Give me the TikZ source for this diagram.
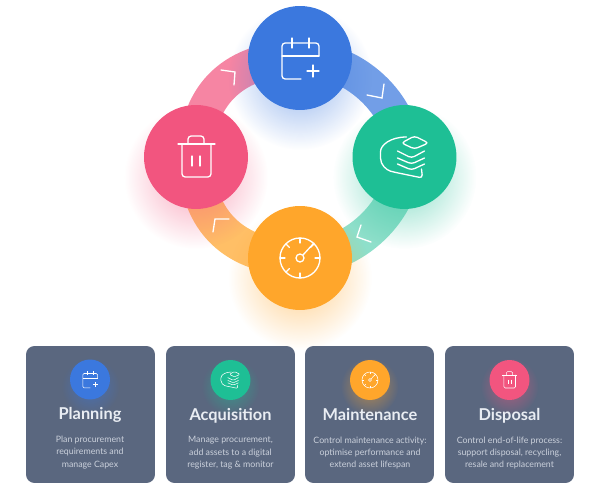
\documentclass[tikz,border=0pt]{standalone}
\usepackage{fontspec}
\setmainfont{Lato}
\usetikzlibrary{backgrounds,fadings,calc}

\definecolor{planblue}{HTML}{3B78DE}
\definecolor{acqgreen}{HTML}{1EBF95}
\definecolor{maintorange}{HTML}{FFA62B}
\definecolor{disppink}{HTML}{F2557F}
\definecolor{cardgrey}{HTML}{5A677F}
\definecolor{titlegrey}{HTML}{E9EDF3}
\definecolor{bodygrey}{HTML}{CBD1DC}

\tikzfading[name=glowfade,inner color=transparent!45,outer color=transparent!100]

\tikzset{
  iconline/.style={draw=white,line width=.75pt,rounded corners=1.8pt,line cap=round},
  pics/calicon/.style={code={
    \draw[iconline] (19,-2) -- (19,-15) -- (-18,-15) -- (-18,21) -- (1,21);
    \draw[iconline] (-18,-2) -- (19,-2);
    \draw[iconline] (-8,-20) -- (-8,-10) (9,-20) -- (9,-10);
    \draw[iconline] (7,13) -- (19,13) (13,7) -- (13,19);
  }},
  pics/stackicon/.style={code={
    \draw[iconline] (-3,-14) -- (10,-21) -- (24,-14) -- (10,-8) -- cycle;
    \draw[iconline] (-7,-6) -- (7,1) -- (20,-6);
    \draw[iconline] (-7,1) -- (7,7) -- (20,1);
    \draw[iconline] (-7,7) -- (7,13) -- (20,7);
    \draw[iconline] (2,-20) .. controls (-14,-20) and (-24,-12) .. (-24,-2)
      .. controls (-24,8) and (-18,13) .. (-11,15) -- (18,21) -- (17,12);
  }},
  pics/gaugeicon/.style={code={
    \draw[iconline] (0,0) circle (20) (0,0) circle (4);
    \draw[iconline] (3,-3) -- (14,-15);
    \foreach \a in {0,90,135,180,225,270,315}
      \draw[iconline] (\a:15) -- (\a:20);
  }},
  pics/binicon/.style={code={
    \draw[iconline] (-18,-13) -- (19,-13);
    \draw[iconline] (-8,-13) -- (-8,-21) -- (8,-21) -- (8,-13);
    \draw[iconline] (-14,-13) -- (-14,20) -- (15,20) -- (15,-13);
    \draw[iconline] (-4,-1) -- (-4,9) (4,-1) -- (4,9);
  }}
}

\begin{document}
\begin{tikzpicture}[x=.02cm,y=-.02cm]
        \useasboundingbox (0,0) rectangle (600,500);

        \begin{scope}[every node/.style={circle,text width=0pt,inner sep=0pt,minimum size=2.08cm}]
          \node[fill=planblue]    (top)    at (300,58)    {};
          \node[fill=acqgreen]    (right)  at (404.5,157) {};
          \node[fill=maintorange] (bottom) at (300,258)   {};
          \node[fill=disppink]    (left)   at (196,157)   {};
        \end{scope}

        \begin{scope}[on background layer]
          \begin{scope}[every edge/.style={draw,line width=.7cm}]
            \path (top.center)    edge[out=0,in=90,looseness=.94,color=planblue!72!white]      (right.center);
            \path (right.center)  edge[out=-90,in=0,looseness=.94,color=acqgreen!50!white]     (bottom.center);
            \path (bottom.center) edge[out=180,in=-90,looseness=1.14,color=maintorange!72!white] (left.center);
            \path (left.center)   edge[out=90,in=180,looseness=1.14,color=disppink!72!white]    (top.center);
          \end{scope}
          \fill[planblue,path fading=glowfade]    ($(top)+(0,20)$)    circle (72);
          \fill[acqgreen,path fading=glowfade]    ($(right)+(0,20)$)  circle (72);
          \fill[maintorange,path fading=glowfade] ($(bottom)+(0,20)$) circle (72);
          \fill[disppink,path fading=glowfade]    ($(left)+(0,20)$)   circle (72);
        \end{scope}

        \pic at (top) {calicon};
        \pic at (right) {stackicon};
        \pic at (bottom) {gaugeicon};
        \pic at (left) {binicon};

        % chevrons on the ring
        \draw[iconline,rounded corners=0pt] (221,70) -- (235,72) -- (234,85);
        \draw[iconline,rounded corners=0pt] (367,95) -- (382,98) -- (384,84);
        \draw[iconline,rounded corners=0pt] (361,225) -- (357,237) -- (371,242);
        \draw[iconline,rounded corners=0pt] (213,232) -- (215,219) -- (229,219);

        % cards
        \begin{scope}[every node/.style={fill=cardgrey,rounded corners=.17cm,minimum width=2.58cm,minimum height=2.74cm,inner sep=0pt}]
          \node (plancard) at (90.5,414.5)  {};
          \node (acqcard)  at (230.5,414.5) {};
          \node (maincard) at (369.5,414.5) {};
          \node (dispcard) at (509.5,414.5) {};
        \end{scope}

        \fill[planblue,path fading=glowfade]    ($(plancard)+(0,-28)$) circle (29);
        \fill[acqgreen,path fading=glowfade]    ($(acqcard)+(0,-28)$)  circle (29);
        \fill[maintorange,path fading=glowfade] ($(maincard)+(0,-28)$) circle (29);
        \fill[disppink,path fading=glowfade]    ($(dispcard)+(0,-28)$) circle (29);

        \begin{scope}[every node/.style={circle,minimum size=.8cm,inner sep=0pt}]
          \node[fill=planblue]    (planicon) at (90,379.5) {};
          \node[fill=acqgreen]    (acqicon)  at (230.5,380) {};
          \node[fill=maintorange] (mainicon) at (370,380) {};
          \node[fill=disppink]    (dispicon) at (509.5,380) {};
        \end{scope}

        \begin{scope}[iconline/.style={draw=white,line width=.3pt,rounded corners=.7pt}]
          \pic[scale=.4] at (planicon) {calicon};
          \pic[scale=.4] at (acqicon) {stackicon};
          \pic[scale=.4] at (mainicon) {gaugeicon};
          \pic[scale=.4] at (dispicon) {binicon};
        \end{scope}

        \begin{scope}[every node/.style={anchor=base,text=titlegrey,font=\fontsize{9.3}{10}\selectfont\bfseries}]
          \node (plantitle) at (90,419.5) {Planning};
          \node (acqtitle)  at (230.5,420.5) {Acquisition};
          \node (maintitle) at (370,420.5) {Maintenance};
          \node (disptitle) at (509.5,420.5) {Disposal};
        \end{scope}

        \begin{scope}[every node/.style={text=bodygrey,align=center,font=\fontsize{5}{7.1}\selectfont}]
          \node (plantext) at (90,452.5) {Plan procurement\\requirements and\\manage Capex};
          \node (acqtext)  at (230.5,453) {Manage procurement,\\add assets to a digital\\register, tag \& monitor};
          \node (maintext) at (370,453) {Control maintenance activity:\\optimise performance and\\extend asset lifespan};
          \node (disptext) at (509.5,453) {Control end-of-life process:\\support disposal, recycling,\\resale and replacement};
        \end{scope}

      \end{tikzpicture}
\end{document}
